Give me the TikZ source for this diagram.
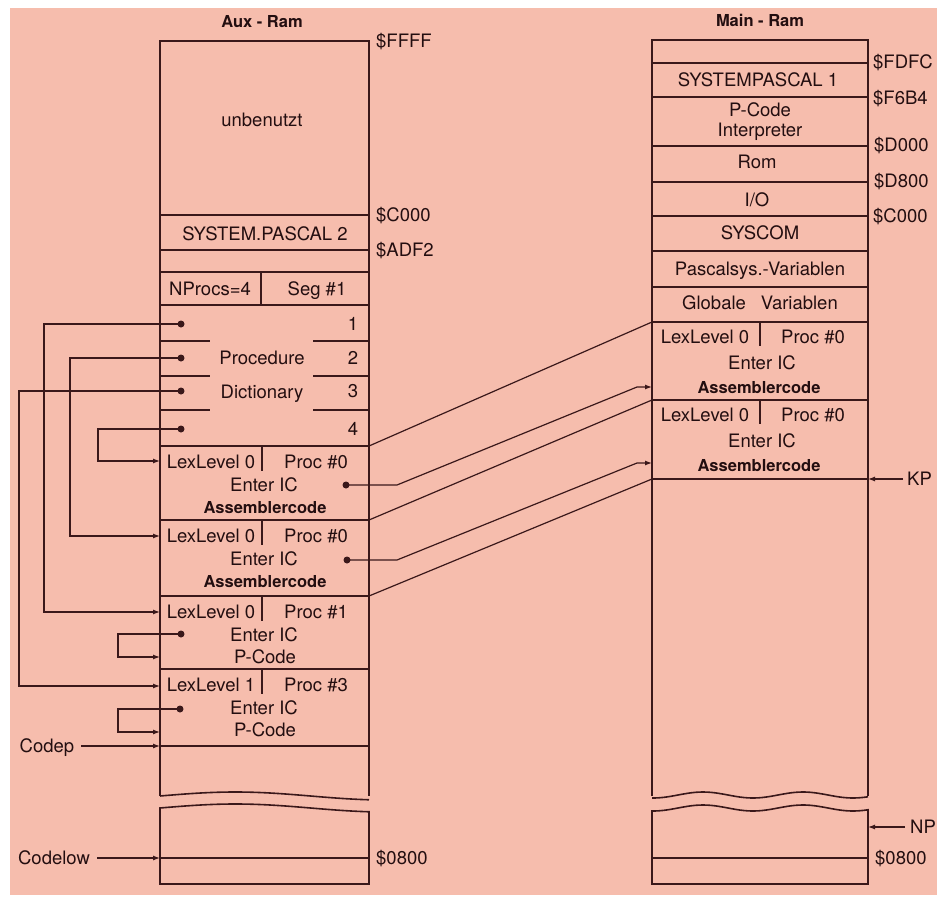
\documentclass[tikz,border=0pt]{standalone}
\usepackage{fontspec}
\setmainfont{TeX Gyre Heros}
\usepackage{tikz}
\usetikzlibrary{arrows.meta,positioning,calc}
\definecolor{paper}{RGB}{246,189,173}
\definecolor{ink}{RGB}{58,24,26}

\begin{document}
\begin{tikzpicture}[x=1pt, y=-1pt,
    mem/.style={draw=ink, line width=1.6pt},
    wire/.style={draw=ink, line width=1.2pt},
    ptr/.style={wire, -{Latex[length=7pt,width=5pt]}},
    txt/.style={text=ink!60!black, font=\fontsize{18.5}{20}\selectfont, inner sep=0pt, text height=13pt, text depth=0pt},
    bold/.style={txt, font=\fontsize{16.5}{18}\selectfont\bfseries, text height=12pt},
    addr/.style={txt, anchor=west},
    dot/.style={circle, fill=ink, inner sep=0pt, minimum size=7pt}]

    % Hintergrund
    \useasboundingbox (0,0) rectangle (946,897);
    \fill[paper] (10,8) rectangle (937,895);

    % Aux-Ram
    \node[bold] (auxT) at (262,21) {Aux - Ram};
    \draw[mem] (160,796) -- (160,41) -- (369,41) -- (369,796);
    \foreach \y in {215,250,272,305,446,520,596,669,746}
        \draw[mem] (160,\y) -- (369,\y);
    \draw[mem] plot[domain=160:369, samples=40, smooth] (\x, {796-4*sin(1.196*(\x-160))});
    \draw[mem] plot[domain=160:369, samples=40, smooth] (\x, {808-4*sin(1.196*(\x-160))}) -- (369,884) -- (160,884) -- cycle;
    \draw[mem] (160,858) -- (369,858);

    \node[txt] (unb) at (262,120) {unbenutzt};
    \node[txt] (sys2) at (265,234) {SYSTEM.PASCAL 2};
    \draw[mem] (261,272) -- (261,305);
    \node[txt] (nprocs) at (210,289) {NProcs=4};
    \node[txt] (seg) at (317,289) {Seg \#1};

    % Procedure Dictionary
    \foreach \y in {341,376,410} {
        \draw[mem] (160,\y) -- (210,\y);
        \draw[mem] (313,\y) -- (369,\y);
    }
    \node[txt] (pdA) at (262,358) {Procedure};
    \node[txt] (pdB) at (262,392) {Dictionary};

    % Codesegmente
    \foreach \b/\y/\lv/\pr/\st/\last in {A/446/0/0/bold/Assemblercode, B/520/0/0/bold/Assemblercode, C/596/0/1/txt/P-Code, D/669/1/3/txt/P-Code} {
        \draw[mem] (262,\y) -- ++(0,25);
        \node[txt] (lex\b) at (211,\y+16) {LexLevel \lv};
        \node[txt] (proc\b) at (316,\y+16) {Proc \#\pr};
        \node[txt] (ent\b) at (264,\y+39) {Enter IC};
        \node[\st] (code\b) at (265,\y+61) {\last};
    }

    % Zeiger der Prozeduren
    \foreach \n/\y/\w/\t in {1/324/44/612, 2/358/70/536, 3/391/19/686, 4/429/98/461} {
        \node[dot] (d\n) at (181,\y) {};
        \node[txt] (num\n) at (353,\y) {\n};
        \coordinate (t\n) at (160,\t);
        \draw[ptr] (d\n.center) -- ++({\w-181},0) |- (t\n);
    }
    \node[dot] (fC) at (181,634) {};
    \node[dot] (fD) at (180,709) {};
    \coordinate (gC) at (160,657);
    \coordinate (gD) at (160,732);
    \draw[ptr] (fC.center) -- ++(-63,0) |- (gC);
    \draw[ptr] (fD.center) -- ++(-62,0) |- (gD);

    \node[addr] (aFFFF) at (376,41) {\$FFFF};
    \node[addr] (aC000) at (376,215) {\$C000};
    \node[addr] (aADF2) at (376,250) {\$ADF2};
    \node[addr] (a0800) at (376,858) {\$0800};

    \node[txt] (codep) at (47,746) {Codep};
    \node[txt] (codelow) at (54,858) {Codelow};
    \coordinate (cp) at (160,746);
    \coordinate (cl) at (160,858);
    \draw[ptr] ([xshift=7pt]codep.east) -- (cp);
    \draw[ptr] ([xshift=7pt]codelow.east) -- (cl);

    % Main-Ram
    \node[bold] (mainT) at (760,20) {Main - Ram};
    \draw[mem] (652,796) -- (652,40) -- (868,40) -- (868,796);
    \foreach \y in {63,97,146,182,216,251,287,322,400,479}
        \draw[mem] (652,\y) -- (868,\y);
    \draw[mem] plot[domain=652:868, samples=60, smooth] (\x, {795-3*sin(3.6*(\x-703)+90)});
    \draw[mem] plot[domain=652:868, samples=60, smooth] (\x, {808-3*sin(3.6*(\x-703)+90)}) -- (868,884) -- (652,884) -- cycle;
    \draw[mem] (652,858) -- (868,858);

    \node[txt] (sys1) at (758,80) {SYSTEMPASCAL 1};
    \node[txt] (pcode) at (760,110) {P-Code};
    \node[txt] (interp) at (760,130) {Interpreter};
    \node[txt] (rom) at (757,162) {Rom};
    \node[txt] (io) at (757,200) {I/O};
    \node[txt] (syscom) at (760,233) {SYSCOM};
    \node[txt] (psv) at (760,269) {Pascalsys.-Variablen};
    \node[txt] (glob) at (760,303) {Globale\hspace{0.8em}Variablen};

    \foreach \b/\y in {R/322, S/400} {
        \draw[mem] (760,\y) -- ++(0,24);
        \node[txt] (lex\b) at (705,\y+15) {LexLevel 0};
        \node[txt] (proc\b) at (813,\y+15) {Proc \#0};
        \node[txt] (ent\b) at (762,\y+41) {Enter IC};
        \node[bold] (code\b) at (759,\y+65) {Assemblercode};
    }

    \node[addr] (mFDFC) at (873,62) {\$FDFC};
    \node[addr] (mF6B4) at (873,98) {\$F6B4};
    \node[addr] (mD000) at (874,145) {\$D000};
    \node[addr] (mD800) at (874,181) {\$D800};
    \node[addr] (mC000) at (873,216) {\$C000};
    \node[addr] (m0800) at (875,858) {\$0800};

    \node[addr] (kp) at (907,479) {KP};
    \node[addr] (np) at (910,827) {NP};
    \coordinate (kpE) at (868,479);
    \coordinate (npE) at (868,827);
    \draw[ptr] ([xshift=-4pt]kp.west) -- (kpE);
    \draw[ptr] ([xshift=-5pt]np.west) -- (npE);

    % Verbindungen Aux -> Main
    \coordinate (topA) at (369,446);
    \coordinate (topB) at (369,520);
    \coordinate (topC) at (369,596);
    \coordinate (topR) at (652,322);
    \coordinate (topS) at (652,400);
    \coordinate (kpL) at (652,479);
    \coordinate (inR) at (652,387);
    \coordinate (inS) at (652,463);
    \node[dot] (eA) at (346,485) {};
    \node[dot] (eB) at (347,560) {};
    \draw[wire] (topA) -- (topR);
    \draw[wire] (topB) -- (topS);
    \draw[wire] (topC) -- (kpL);
    \draw[ptr] (eA.center) -- (397,485) -- (637,387) -- (inR);
    \draw[ptr] (eB.center) -- (397,560) -- (637,463) -- (inS);
\end{tikzpicture}
\end{document}
